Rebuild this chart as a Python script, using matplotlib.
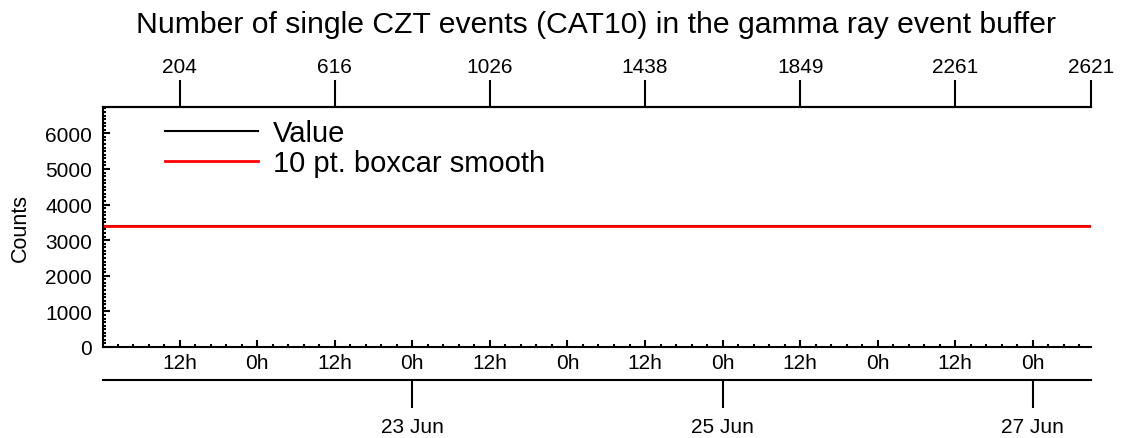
import matplotlib
matplotlib.use("Agg")
import matplotlib.pyplot as plt
import matplotlib.dates as mdates
from matplotlib.ticker import MultipleLocator, FixedLocator, FuncFormatter
from datetime import datetime

plt.rcParams["font.family"] = ["Liberation Sans", "DejaVu Sans"]

# data (both series flat, smooth on top of value)
value_time = [datetime(2024, 6, 21, 0, 8), datetime(2024, 6, 27, 9, 0)]
value_counts = [3390, 3390]
smooth_time = [datetime(2024, 6, 21, 0, 8), datetime(2024, 6, 27, 9, 0)]
smooth_counts = [3390, 3390]

# sample number axis on top
sample_labels = [204, 616, 1026, 1438, 1849, 2261, 2621]
sample_times = [
    datetime(2024, 6, 21, 12), datetime(2024, 6, 22, 12), datetime(2024, 6, 23, 12),
    datetime(2024, 6, 24, 12), datetime(2024, 6, 25, 12), datetime(2024, 6, 26, 12),
    datetime(2024, 6, 27, 9, 0),
]
date_ticks = [datetime(2024, 6, 23), datetime(2024, 6, 25), datetime(2024, 6, 27)]
date_labels = ["23 Jun", "25 Jun", "27 Jun"]

fig = plt.figure(figsize=(11.21, 4.39), dpi=100)
ax = fig.add_axes([0.0919, 0.2073, 0.8813, 0.5467])

ax.plot(value_time, value_counts, color="black", lw=1.5, label="Value")
ax.plot(smooth_time, smooth_counts, color="red", lw=2.0, label="10 pt. boxcar smooth")

ax.set_xlim(mdates.date2num(value_time[0]), mdates.date2num(value_time[-1]))
ax.set_ylim(0, 6740)

ax.spines["right"].set_visible(False)
for s in ["left", "bottom", "top"]:
    ax.spines[s].set_linewidth(1.5)

# bottom: hours
ax.xaxis.set_major_locator(MultipleLocator(0.5))
ax.xaxis.set_minor_locator(MultipleLocator(0.1))
ax.xaxis.set_major_formatter(FuncFormatter(lambda v, p: "%dh" % mdates.num2date(v).hour))
ax.tick_params(axis="x", which="major", direction="in", length=5, width=1.5, pad=4, labelsize=15)
ax.tick_params(axis="x", which="minor", direction="in", length=2.5, width=1.5)

ax.yaxis.set_major_locator(MultipleLocator(1000))
ax.yaxis.set_minor_locator(MultipleLocator(100))
ax.tick_params(axis="y", which="major", direction="in", length=5, width=1.5, pad=8, labelsize=15)
ax.tick_params(axis="y", which="minor", direction="in", length=2.5, width=1.5)
ax.set_ylabel("Counts", fontsize=15.5, labelpad=10)

# top: sample numbers
top = ax.twiny()
top.set_xlim(ax.get_xlim())
top.xaxis.set_major_locator(FixedLocator(mdates.date2num(sample_times)))
top.set_xticklabels([str(s) for s in sample_labels])
top.xaxis.set_minor_locator(FixedLocator([]))
top.tick_params(axis="x", which="major", direction="out", length=19.5, width=1.5, pad=3, labelsize=15)
for s in ["left", "right", "bottom"]:
    top.spines[s].set_visible(False)
top.spines["top"].set_linewidth(1.5)

# second bottom axis with dates
sec = ax.secondary_xaxis(-0.1375)
sec.xaxis.set_major_locator(FixedLocator(mdates.date2num(date_ticks)))
sec.set_xticklabels(date_labels)
sec.xaxis.set_minor_locator(FixedLocator([]))
sec.tick_params(axis="x", which="major", direction="out", length=20, width=1.5, pad=7, labelsize=15)
sec.spines["bottom"].set_linewidth(1.5)

leg = ax.legend(loc="upper left", frameon=False, fontsize=21, handlelength=3.2,
                handletextpad=0.5, labelspacing=0.08, borderaxespad=0.0,
                bbox_to_anchor=(0.051, 0.998))

fig.suptitle("Number of single CZT events (CAT10) in the gamma ray event buffer",
             fontsize=21.7, x=0.532, y=0.976, va="top")

fig.savefig("out.png", dpi=100)
